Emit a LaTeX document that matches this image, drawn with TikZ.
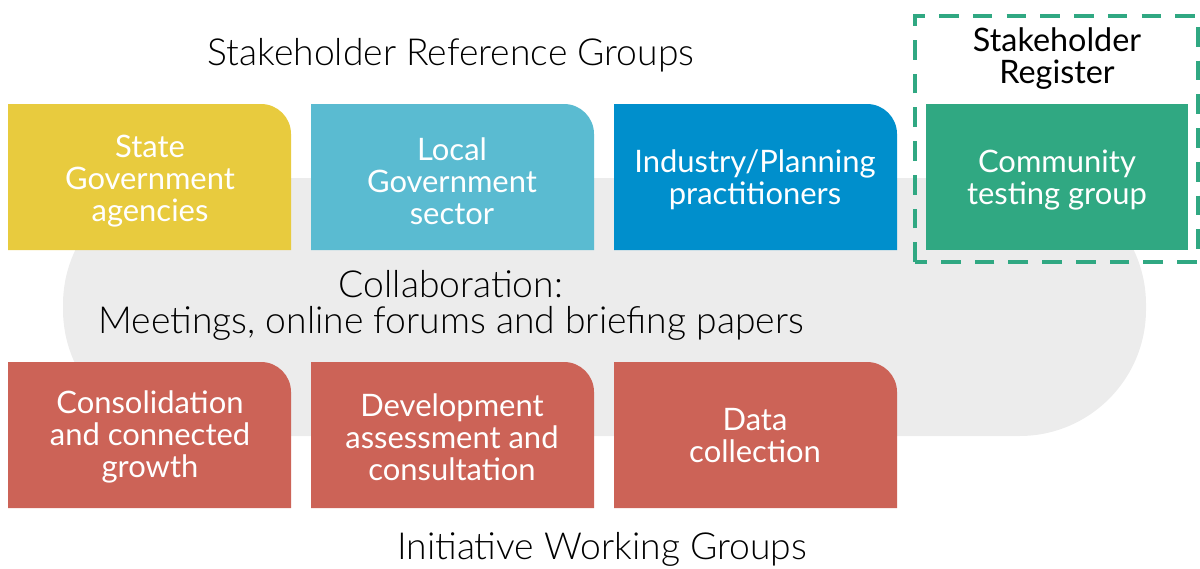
\documentclass[tikz,border=0pt]{standalone}
\usepackage{fontspec}
\usepackage{xcolor}
\usepackage{tikz}
\setmainfont{Lato}
\newfontfamily\lightfont{Lato Light}

\definecolor{stateyellow}{HTML}{E8CB3E}
\definecolor{localblue}{HTML}{5ABBD1}
\definecolor{industryblue}{HTML}{008FCC}
\definecolor{registergreen}{HTML}{30A882}
\definecolor{workingred}{HTML}{CC6357}
\definecolor{collabgrey}{HTML}{ECECEC}

\tikzset{
  grouptext/.style={text=white, align=center, font=\fontsize{22}{22.8}\selectfont},
  heading/.style={align=center, font=\lightfont\fontsize{26.5}{25.6}\selectfont}
}

\begin{document}
\begin{tikzpicture}[x=0.025cm, y=0.025cm]
            \useasboundingbox (0,0) rectangle (1200,568);

            \fill[collabgrey, rounded corners=90pt] (63,132) rectangle (1146,390);

            \foreach \x/\y/\c in {8/318/stateyellow, 311/318/localblue, 614/318/industryblue,
                                  8/60/workingred, 311/60/workingred, 614/60/workingred}
              {
                \fill[\c] (\x,\y) -- ++(0,146) -- ++(253,0)
                  arc[start angle=90, end angle=0, radius=30] -- ++(0,-116) -- cycle;
              }
            \fill[registergreen] (926,318) rectangle (1188,464);
            \draw[registergreen, line width=3.5pt, dash pattern=on 14pt off 10pt]
              (915,306) rectangle (1198,552);

            \node[heading] (reference) at (451,513) {Stakeholder Reference Groups};
            \node[align=center, font=\fontsize{23}{22.8}\selectfont] (register) at (1057,509) {Stakeholder\\Register};

            \node[grouptext] (state) at (150,387) {State\\Government\\agencies};
            \node[grouptext] (local) at (452,387) {Local\\Government\\sector};
            \node[grouptext] (industry) at (755,388) {Industry/Planning\\practitioners};
            \node[grouptext] (community) at (1057,388) {Community\\testing group};

            \node[heading] (collab) at (451,263) {Collaboration:\\Meetings, online forums and briefing papers};

            \node[grouptext] (consolidation) at (150,131) {Consolidation\\and connected\\growth};
            \node[grouptext] (development) at (452,131) {Development\\assessment and\\consultation};
            \node[grouptext] (data) at (755,132) {Data\\collection};

            \node[heading] (working) at (602,19) {Initiative Working Groups};
        \end{tikzpicture}
\end{document}
